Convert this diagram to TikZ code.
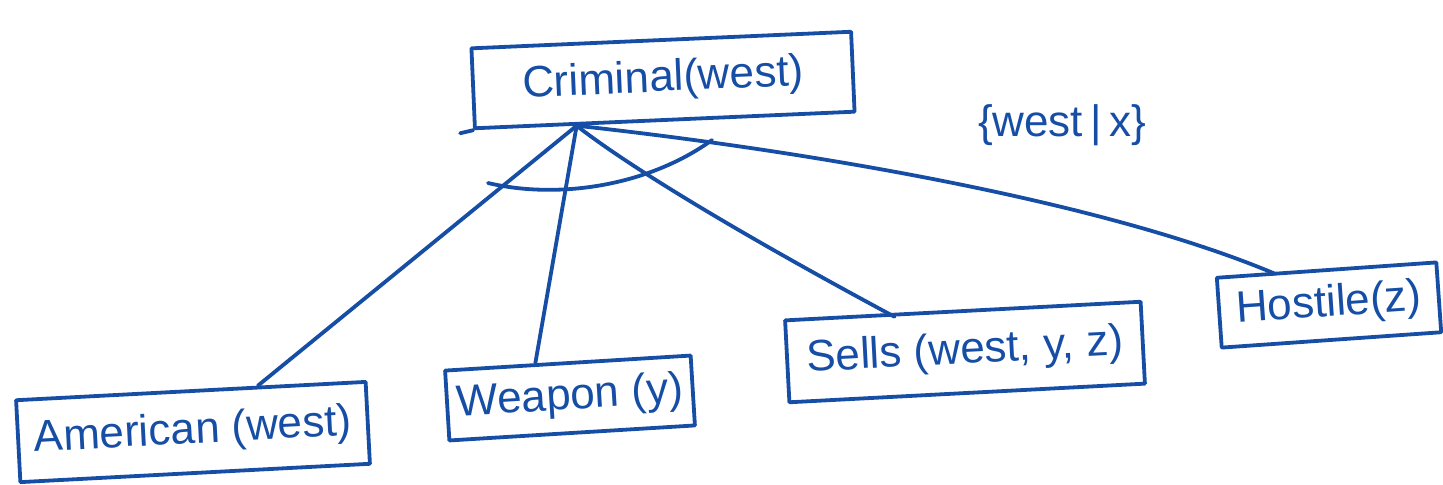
\documentclass[tikz,border=0pt]{standalone}
\usepackage{fontspec}
\setmainfont{Liberation Sans}
\usetikzlibrary{calc}
\definecolor{ink}{RGB}{22,78,165}
\begin{document}
\begin{tikzpicture}[x=0.5pt,y=-0.5pt,
  pen/.style={draw=ink,line width=1.9pt,line cap=round,line join=round},
  fact/.style={pen,text=ink,inner sep=0pt,font=\fontsize{22}{26}\selectfont},
  link/.style={pen}]
\useasboundingbox (0,0) rectangle (1443,484);

% goal and sub-goal boxes
\node[fact,minimum width=190pt,minimum height=40pt,rotate=2.5] (crim) at (663,80) {Criminal(west)};
\node[fact,minimum width=175pt,minimum height=41pt,rotate=3] (amer) at (193,432) {American (west)};
\node[fact,minimum width=123pt,minimum height=35pt,rotate=3.5] (weap) at (570,398) {Weapon (y)};
\node[fact,minimum width=178pt,minimum height=41pt,rotate=3] (sells) at (965,352) {Sells (west, y, z)};
\node[fact,minimum width=110pt,minimum height=35pt,rotate=4] (host) at (1329,305) {Hostile(z)};

% substitution
\node[text=ink,font=\fontsize{22}{26}\selectfont] (subst) at (1062,125) {\{west\,\textbar\,x\}};

% small overhang of the goal box
\draw[pen] (crim.south west) -- ++(-13,3);

% branch points
\coordinate (apex) at ($(crim.south west)!0.27!(crim.south east)$);
\coordinate (pA) at ($(amer.north west)!0.69!(amer.north east)$);
\coordinate (pW) at ($(weap.north west)!0.37!(weap.north east)$);
\coordinate (pS) at ($(sells.north west)!0.31!(sells.north east)+(0,4)$);
\coordinate (pH) at ($(host.north west)!0.27!(host.north east)+(0,2)$);

\draw[link] (apex) -- (pA);
\draw[link] (apex) -- (pW);
\draw[link] (apex) .. controls (640,175) and (770,250) .. (pS);
\draw[link] (apex) .. controls (800,150) and (1100,200) .. (pH);

% conjunction arc
\coordinate (arcL) at (488,183);
\coordinate (arcR) at (712,140);
\draw[link] (arcL) .. controls (560,200) and (650,185) .. (arcR);
\end{tikzpicture}
\end{document}
